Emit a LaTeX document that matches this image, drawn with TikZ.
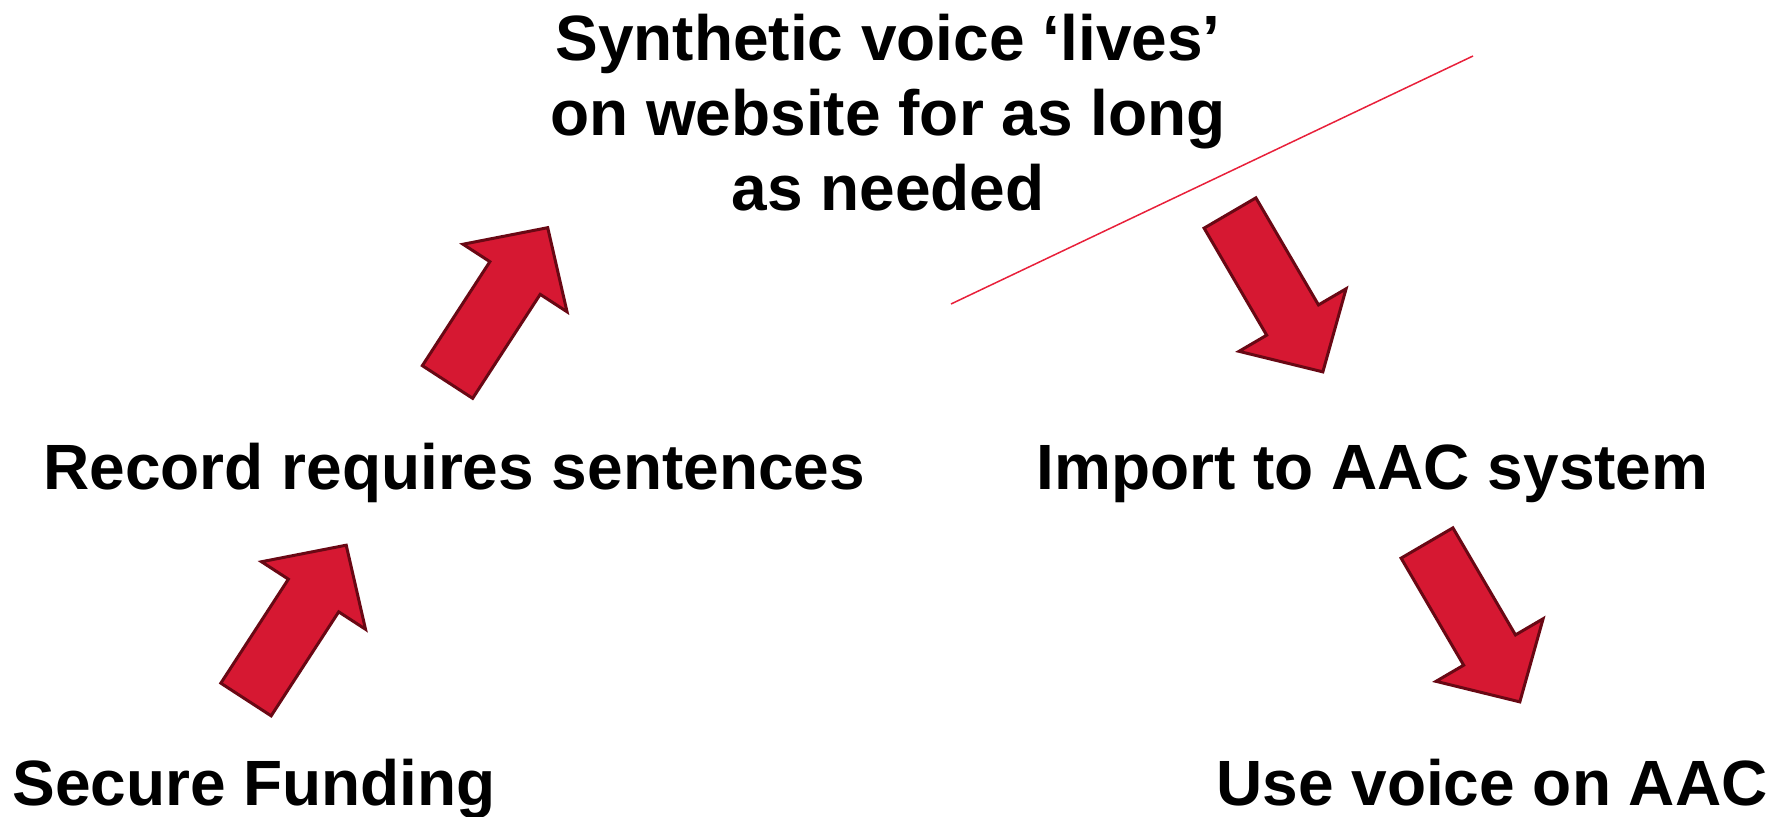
\documentclass[tikz,border=0pt]{standalone}
\usepackage{fontspec}
\setmainfont{Liberation Sans}
\definecolor{arrowred}{RGB}{214,24,50}
\definecolor{arrowrim}{RGB}{105,8,20}
\definecolor{linered}{RGB}{232,32,58}
\tikzset{
	steplabel/.style={inner sep=0pt, font=\fontsize{32}{37.5}\selectfont\bfseries},
	bigarrow/.pic={
		\draw[fill=arrowred, draw=arrowrim, line width=1.5pt, line join=miter]
			(0,-30) -- (124,-30) -- (124,-62) -- (184,0) -- (124,62) -- (124,30) -- (0,30) -- cycle;
	}
}
\begin{document}
\begin{tikzpicture}[x=0.5pt, y=0.5pt]
			\useasboundingbox (0,0) rectangle (1783,816);
			\node [steplabel, anchor=base west] (fund) at (12,11) {Secure Funding};
			\node [steplabel, anchor=base west] (record) at (43,327) {Record requires sentences};
			\node [steplabel, anchor=base, align=center] (synth) at (888,606) {Synthetic voice ‘lives’\\on website for as long\\as needed};
			\node [steplabel, anchor=base west] (import) at (1036,327) {Import to AAC system};
			\node [steplabel, anchor=base west] (use) at (1216,11) {Use voice on AAC};
		
			\pic [rotate=57] at (246,116.5) {bigarrow};
			\pic [rotate=57] at (447.5,434) {bigarrow};
			\pic [rotate=-59.7] at (1230,603) {bigarrow};
			\pic [rotate=-59.7] at (1427,273) {bigarrow};
			\draw[linered, line width=0.75pt] (951,512) -- (1473,760);
		\end{tikzpicture}
\end{document}
